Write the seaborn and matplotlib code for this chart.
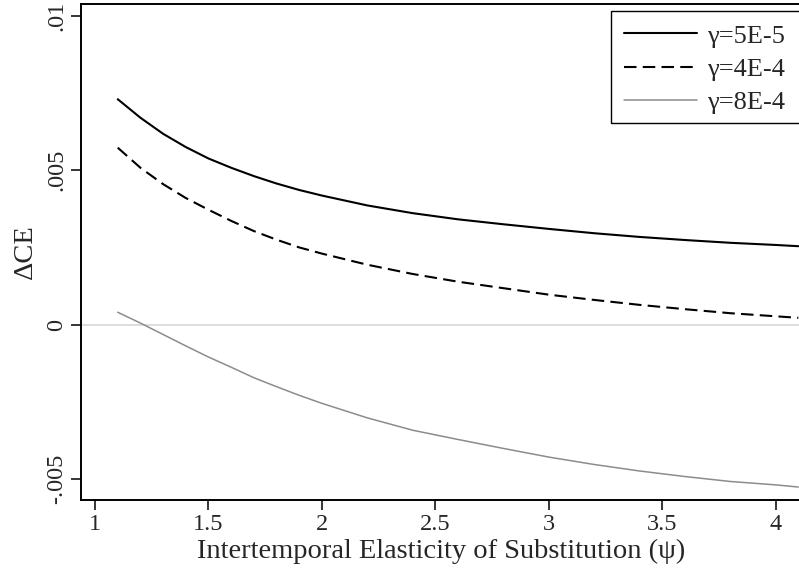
import numpy as np
import pandas as pd
import seaborn as sns
import matplotlib.pyplot as plt
from matplotlib.patches import Rectangle

# values
psi = [1.1, 1.2, 1.3, 1.4, 1.5, 1.6, 1.7, 1.8, 1.9, 2.0, 2.2, 2.4, 2.6, 2.8,
       3.0, 3.2, 3.4, 3.6, 3.8, 4.0, 4.1]
ce_5e5 = [0.00730, 0.00670, 0.00618, 0.00575, 0.00538, 0.00508, 0.00481, 0.00457,
          0.00436, 0.00418, 0.00386, 0.00361, 0.00341, 0.00325, 0.00310, 0.00296,
          0.00284, 0.00274, 0.00265, 0.00258, 0.00254]
ce_4e4 = [0.00573, 0.00508, 0.00455, 0.00410, 0.00372, 0.00336, 0.00303, 0.00275,
          0.00250, 0.00230, 0.00194, 0.00164, 0.00139, 0.00118, 0.00097, 0.00080,
          0.00064, 0.00050, 0.00037, 0.00027, 0.00022]
ce_8e4 = [0.00040, 0.00005, -0.00032, -0.00069, -0.00105, -0.00138, -0.00172, -0.00201,
          -0.00229, -0.00255, -0.00302, -0.00342, -0.00372, -0.00401, -0.00429, -0.00453,
          -0.00474, -0.00492, -0.00508, -0.00519, -0.00526]
labels = ['\u03b3=5E-5', '\u03b3=4E-4', '\u03b3=8E-4']

x_ticks = [1, 1.5, 2, 2.5, 3, 3.5, 4]
x_tick_labels = ['1', '1.5', '2', '2.5', '3', '3.5', '4']
y_ticks = [-0.005, 0, 0.005, 0.01]
y_tick_labels = ['-.005', '0', '.005', '.01']

df = pd.DataFrame({
    'psi': psi * 3,
    'ce': ce_5e5 + ce_4e4 + ce_8e4,
    'gamma': [labels[0]] * len(psi) + [labels[1]] * len(psi) + [labels[2]] * len(psi),
})

sns.set_style('white')
plt.rcParams['font.family'] = ['Liberation Serif', 'DejaVu Serif']

W, H = 799, 573
fig = plt.figure(figsize=(W / 100, H / 100), dpi=100)
ax = fig.add_axes([81 / W, 1 - 500 / H, 1 - 81 / W + 0.002, (500 - 3.5) / H])

ax.axhline(0, color='#d4d4d4', lw=1.1, zorder=1)

palette = {labels[0]: 'black', labels[1]: 'black', labels[2]: '#8c8c8c'}
dashes = {labels[0]: '', labels[1]: (6, 3), labels[2]: ''}
sns.lineplot(data=df, x='psi', y='ce', hue='gamma', style='gamma',
             palette=palette, dashes=dashes, ax=ax, legend=False, zorder=3)
for line, lw in zip(ax.get_lines()[1:], [1.5, 1.5, 1.1]):
    line.set_linewidth(lw)

ax.set_xlim(0.938, 4.11)
ax.set_ylim(-0.00568, 0.0104)
ax.set_xticks(x_ticks)
ax.set_xticklabels(x_tick_labels, fontsize=17.5)
ax.set_yticks(y_ticks)
ax.set_yticklabels(y_tick_labels, fontsize=17.5, rotation=90, va='center')
ax.tick_params(axis='both', direction='out', length=7, width=1.1, color='black',
               bottom=True, left=True, pad=3)

for side in ['left', 'bottom', 'top']:
    ax.spines[side].set_color('black')
    ax.spines[side].set_linewidth(1.4)
ax.spines['right'].set_visible(False)

ax.set_xlabel('Intertemporal Elasticity of Substitution (\u03c8)', fontsize=20.5, labelpad=3)
ax.set_ylabel('\u0394CE', fontsize=20.5, labelpad=6)

handles = [plt.Line2D([], [], color='black', lw=1.5),
           plt.Line2D([], [], color='black', lw=1.5, dashes=(6, 3)),
           plt.Line2D([], [], color='#8c8c8c', lw=1.1)]
leg = fig.legend(handles, labels, loc='upper left',
                 bbox_to_anchor=(611 / W, 1 - 11 / H),
                 fontsize=19, frameon=False, handlelength=2.75,
                 handletextpad=0.38, labelspacing=0.37, borderpad=0.5, borderaxespad=0)

# legend box: it runs off the right edge of the figure in the reference
fig.patches.append(Rectangle((611 / W, 1 - 123 / H), 200 / W, 112 / H,
                             transform=fig.transFigure, fill=False,
                             edgecolor='black', linewidth=1.0, zorder=5))

fig.savefig('out.png', dpi=100)
